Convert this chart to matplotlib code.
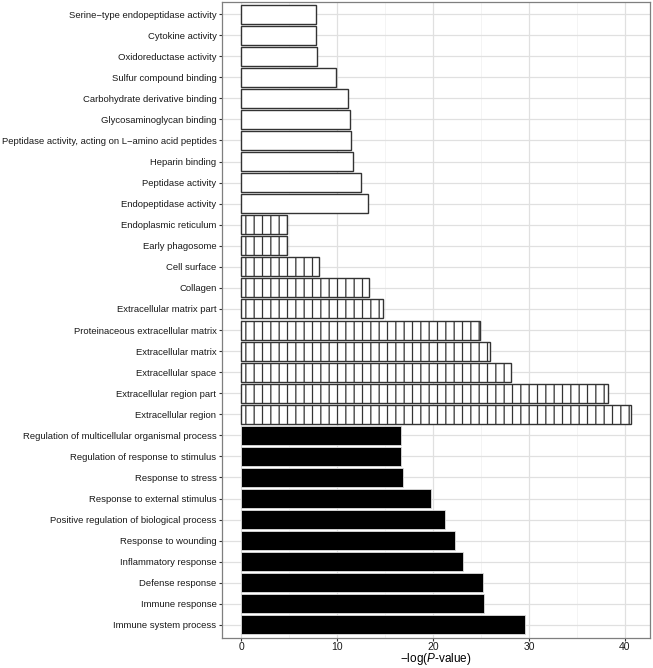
import matplotlib
matplotlib.use("Agg")
import matplotlib.pyplot as plt
import numpy as np

plt.rcParams["font.family"] = ["Liberation Sans", "DejaVu Sans"]
plt.rcParams["mathtext.fontset"] = "custom"
plt.rcParams["mathtext.rm"] = "Liberation Sans"
plt.rcParams["mathtext.it"] = "Liberation Sans:italic"
plt.rcParams["hatch.linewidth"] = 0.9

# Terms, top to bottom as drawn
mf_terms = ["Serine\u2212type endopeptidase activity", "Cytokine activity",
            "Oxidoreductase activity", "Sulfur compound binding",
            "Carbohydrate derivative binding", "Glycosaminoglycan binding",
            "Peptidase activity, acting on L\u2212amino acid peptides",
            "Heparin binding", "Peptidase activity", "Endopeptidase activity"]
mf_values = [7.76, 7.76, 7.86, 9.88, 11.16, 11.33, 11.4, 11.6, 12.47, 13.2]

cc_terms = ["Endoplasmic reticulum", "Early phagosome", "Cell surface", "Collagen",
            "Extracellular matrix part", "Proteinaceous extracellular matrix",
            "Extracellular matrix", "Extracellular space",
            "Extracellular region part", "Extracellular region"]
cc_values = [4.75, 4.75, 8.07, 13.34, 14.8, 24.9, 25.9, 28.1, 38.2, 40.6]

bp_terms = ["Regulation of multicellular organismal process",
            "Regulation of response to stimulus", "Response to stress",
            "Response to external stimulus",
            "Positive regulation of biological process", "Response to wounding",
            "Inflammatory response", "Defense response", "Immune response",
            "Immune system process"]
bp_values = [16.67, 16.7, 16.9, 19.8, 21.2, 22.3, 23.1, 25.2, 25.3, 29.6]

terms = mf_terms + cc_terms + bp_terms
values = mf_values + cc_values + bp_values
n = len(terms)
ypos = np.arange(n)[::-1]  # first term on top

fig = plt.figure(figsize=(6.53, 6.68), dpi=100)
ax = fig.add_axes([222 / 653, 1 - 637.5 / 668, 428 / 653, 636 / 668])

# grid (theme_bw look)
ax.set_axisbelow(True)
for x in [5, 15, 25, 35]:
    ax.axvline(x, color="#f2f2f2", lw=0.6, zorder=0)
for x in [0, 10, 20, 30, 40]:
    ax.axvline(x, color="#e0e0e0", lw=0.9, zorder=0)
for y in ypos:
    ax.axhline(y, color="#e0e0e0", lw=0.9, zorder=0)

ax.barh(ypos[:10], mf_values, height=0.9, color="white", edgecolor="#333333", lw=1.0, zorder=2)
ax.barh(ypos[10:20], cc_values, height=0.9, color="white", edgecolor="#333333", lw=1.0,
        hatch="||", zorder=2)
ax.barh(ypos[20:], bp_values, height=0.9, color="black", edgecolor="#dddddd", lw=0.6, zorder=2)

ax.set_xlim(-2.03, 42.63)
ax.set_ylim(-0.6, n - 0.4)
ax.set_xticks([0, 10, 20, 30, 40])
ax.set_yticks(ypos)
ax.set_yticklabels(terms)
ax.tick_params(axis="both", colors="#333333", labelcolor="#1a1a1a",
               length=2.5, width=0.8, pad=1.5)
ax.tick_params(axis="x", pad=1)
ax.tick_params(axis="y", labelsize=6.8)
ax.tick_params(axis="x", labelsize=7.5)
for s in ax.spines.values():
    s.set_color("#7f7f7f")
    s.set_linewidth(0.9)

ax.set_xlabel(r"$-$log($\mathit{P}$-value)", fontsize=8.5, labelpad=-1)

fig.savefig("out.png", dpi=100)
